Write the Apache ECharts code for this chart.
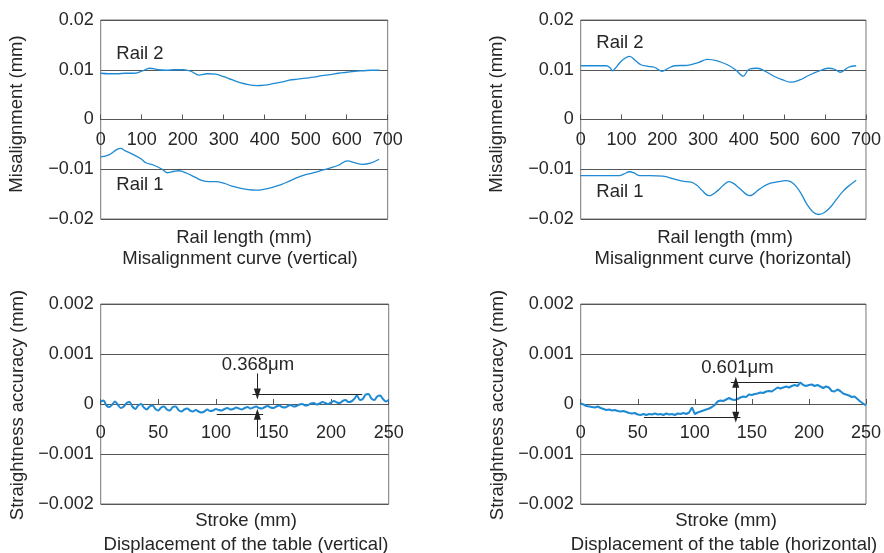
<!DOCTYPE html>
<html>
<head>
<meta charset="utf-8">
<script src="https://cdn.jsdelivr.net/npm/echarts@6/dist/echarts.min.js"></script>
<style>
html,body{margin:0;padding:0;background:#fff;}
#chart{width:884px;height:553px;}
</style>
</head>
<body>
<div id="chart"></div>
<script>
// ---------- DATA ----------
// Misalignment curve (vertical) — rail length (mm) vs misalignment (mm)
const vRail2X = [0,20,40,60,80,100,120,140,160,180,200,220,240,260,280,300,320,340,360,380,400,420,440,460,480,500,520,540,560,580,600,620,640,660,680];
const vRail2Y = [0.0093,0.0092,0.0092,0.0093,0.0093,0.0097,0.0103,0.0100,0.0099,0.0100,0.0100,0.0097,0.0089,0.0092,0.0091,0.0086,0.0080,0.0074,0.0070,0.0068,0.0069,0.0072,0.0075,0.0079,0.0081,0.0083,0.0085,0.0088,0.0090,0.0093,0.0095,0.0097,0.0098,0.0099,0.0099];
const vRail1X = [0,20,40,49,60,81,100,110,130,150,163,180,191,210,230,248,265,280,300,320,340,360,378,400,420,440,460,476,500,520,540,557,580,602,620,638,660,679];
const vRail1Y = [-0.0075,-0.0071,-0.0060,-0.0058,-0.0063,-0.0071,-0.0080,-0.0087,-0.0092,-0.0100,-0.0107,-0.0104,-0.0103,-0.0108,-0.0116,-0.0123,-0.0125,-0.0125,-0.0128,-0.0134,-0.0138,-0.0141,-0.0142,-0.0140,-0.0136,-0.0131,-0.0124,-0.0118,-0.0111,-0.0107,-0.0102,-0.0098,-0.0092,-0.0083,-0.0087,-0.0090,-0.0087,-0.0080];

// Misalignment curve (horizontal)
const hRail2X = [0,20,40,63,72,78,85,95,105,120,135,148,165,181,199,215,230,262,290,311,335,360,380,399,413,433,455,474,495,514,539,555,571,590,608,623,637,657,676];
const hRail2Y = [0.0108,0.0108,0.0108,0.0108,0.0104,0.0098,0.0103,0.0113,0.0121,0.0127,0.0118,0.0110,0.0107,0.0105,0.0097,0.0103,0.0108,0.0109,0.0115,0.0121,0.0118,0.0110,0.0100,0.0087,0.0101,0.0103,0.0096,0.0087,0.0080,0.0075,0.0080,0.0087,0.0093,0.0099,0.0103,0.0101,0.0095,0.0105,0.0108];
const hRail1X = [0,40,92,105,120,132,145,170,201,230,250,271,285,295,315,336,350,364,376,388,415,437,452,466,485,502,515,527,540,555,570,584,598,612,628,645,660,676];
const hRail1Y = [-0.0113,-0.0113,-0.0113,-0.0110,-0.0105,-0.0108,-0.0113,-0.0113,-0.0114,-0.0120,-0.0124,-0.0126,-0.0132,-0.0140,-0.0153,-0.0143,-0.0132,-0.0125,-0.0129,-0.0137,-0.0153,-0.0141,-0.0133,-0.0128,-0.0125,-0.0123,-0.0125,-0.0133,-0.0148,-0.0170,-0.0186,-0.0191,-0.0187,-0.0177,-0.0160,-0.0143,-0.0132,-0.0122];

// Displacement of the table — stroke sampled every 2.5 mm, values in µm
const strokeStep = 2.5;
const dispVerticalUm = [0.05,0.07,-0.03,-0.06,-0.01,0.05,-0.02,-0.08,-0.05,0.02,0.04,-0.05,-0.10,-0.03,0.00,-0.07,-0.11,-0.05,-0.03,-0.10,-0.13,-0.07,-0.05,-0.11,-0.13,-0.06,-0.05,-0.12,-0.15,-0.11,-0.09,-0.13,-0.15,-0.12,-0.15,-0.17,-0.15,-0.11,-0.14,-0.13,-0.10,-0.12,-0.13,-0.10,-0.08,-0.11,-0.10,-0.07,-0.09,-0.11,-0.08,-0.06,-0.09,-0.07,-0.05,-0.08,-0.09,-0.06,-0.04,-0.07,-0.08,-0.05,-0.03,-0.06,-0.07,-0.04,-0.02,-0.05,-0.04,-0.01,0.00,-0.03,-0.02,0.01,0.02,-0.01,0.01,0.04,0.02,0.00,0.03,0.06,0.03,0.02,0.06,0.08,0.04,0.05,0.10,0.17,0.08,0.10,0.19,0.20,0.11,0.08,0.15,0.17,0.10,0.05,0.08];
const dispHorizontalUm = [0.01,-0.01,-0.04,-0.05,-0.06,-0.07,-0.05,-0.08,-0.10,-0.12,-0.11,-0.13,-0.12,-0.14,-0.15,-0.14,-0.16,-0.18,-0.19,-0.18,-0.21,-0.22,-0.20,-0.22,-0.20,-0.21,-0.19,-0.21,-0.20,-0.22,-0.19,-0.21,-0.20,-0.22,-0.19,-0.20,-0.18,-0.20,-0.17,-0.07,-0.20,-0.17,-0.15,-0.13,-0.11,-0.09,-0.06,-0.02,0.05,0.07,0.06,0.09,0.12,0.09,0.08,0.10,0.13,0.15,0.14,0.19,0.18,0.20,0.21,0.23,0.22,0.25,0.26,0.25,0.29,0.33,0.31,0.33,0.35,0.33,0.36,0.38,0.36,0.43,0.38,0.36,0.38,0.39,0.36,0.38,0.35,0.32,0.35,0.33,0.26,0.25,0.29,0.26,0.21,0.19,0.17,0.14,0.15,0.10,0.05,0.01,-0.03];

// Annotations (data coordinates: stroke mm, displacement mm)
const vMaxLine = [[131.7, 0.0002],[227, 0.0002]];
const vMinLine = [[100.7, -0.000206],[141, -0.000206]];
const vArrowTop = [[136, 0.00061],[136, 0.0002]];
const vArrowBottom = [[136, -0.00066],[136, -0.000206]];
const vLabelPos = [136.5, 0.00078];
const vLabel = '0.368μm';
const hMaxLine = [[131.5, 0.000434],[191, 0.000434]];
const hMinLine = [[55.4, -0.000266],[140, -0.000266]];
const hArrow = [[135.9, 0.000434],[135.9, -0.000266]];
const hLabelPos = [137.3, 0.00073];
const hLabel = '0.601μm';

// ---------- CHART ----------
const FONT = '"Liberation Sans", Arial, Helvetica, sans-serif';
const TXT = '#262626';
const BLUE = '#1e8ad3';
const GRIDC = '#555';

const pairs = (xs, ys) => xs.map((x, i) => [x, ys[i]]);
const strokePairs = (um) => um.map((v, i) => [i * strokeStep, v / 1000]);

function fmtTop(v){ if (Math.abs(v) < 1e-9) return '0'; return (v < 0 ? '\u2212' : '') + Math.abs(v).toFixed(2); }
function fmtBot(v){ if (Math.abs(v) < 1e-9) return '0'; return (v < 0 ? '\u2212' : '') + Math.abs(v).toFixed(3); }

const gridDefs = [
  {left: 100.7, top: 20, width: 287, height: 199},
  {left: 580.7, top: 20, width: 287, height: 199},
  {left: 100.7, top: 304, width: 288, height: 200},
  {left: 580.7, top: 304, width: 287, height: 200}
];
const grids = gridDefs.map(g => Object.assign({show: true, borderColor: '#777', borderWidth: 1, containLabel: false}, g));

// x axis drawn through the middle (value 0) of each symmetric y range
function xAx(i, max, interval, margin){
  return {
    type: 'value', gridIndex: i, min: 0, max: max, interval: interval,
    position: 'bottom', offset: -gridDefs[i].height / 2,
    axisLine: {onZero: false, lineStyle: {color: GRIDC, width: 1}},
    axisTick: {show: true, inside: true, length: 5, lineStyle: {color: GRIDC}},
    axisLabel: {color: TXT, fontSize: 18, fontFamily: FONT, margin: margin, showMinLabel: true, showMaxLabel: true},
    splitLine: {show: false}
  };
}
function yAx(i, min, max, interval, fmt){
  return {
    type: 'value', gridIndex: i, min: min, max: max, interval: interval,
    axisLine: {show: false}, axisTick: {show: false},
    axisLabel: {color: TXT, fontSize: 18, fontFamily: FONT, margin: 7, formatter: fmt},
    splitLine: {show: true, lineStyle: {color: GRIDC, width: 1}}
  };
}

function lineSeries(idx, data, width, smooth, extra){
  return Object.assign({
    type: 'line', xAxisIndex: idx, yAxisIndex: idx, data: data, showSymbol: false, symbol: 'none',
    smooth: smooth, lineStyle: {color: BLUE, width: width}, itemStyle: {color: BLUE}, silent: true, animation: false
  }, extra || {});
}

function seg(a, b, s0, s1){
  return [{coord: a, symbol: s0}, {coord: b, symbol: s1}];
}

const chart = echarts.init(document.getElementById('chart'), null, {renderer: 'canvas'});

const annV = {
  markLine: {
    silent: true, animation: false, symbolSize: [7, 11], label: {show: false},
    lineStyle: {color: '#222', width: 1, type: 'solid'},
    data: [
      seg(vMaxLine[0], vMaxLine[1], 'none', 'none'),
      seg(vMinLine[0], vMinLine[1], 'none', 'none'),
      seg(vArrowTop[0], vArrowTop[1], 'none', 'triangle'),
      seg(vArrowBottom[0], vArrowBottom[1], 'none', 'triangle')
    ]
  },
  markPoint: {
    silent: true, animation: false, symbol: 'rect', symbolSize: 1, itemStyle: {color: 'rgba(0,0,0,0)'},
    label: {show: true, position: 'inside', color: TXT, fontSize: 18.5, fontFamily: FONT, formatter: vLabel},
    data: [{coord: vLabelPos}]
  }
};
const annH = {
  markLine: {
    silent: true, animation: false, symbolSize: [7, 11], label: {show: false},
    lineStyle: {color: '#222', width: 1, type: 'solid'},
    data: [
      seg(hMaxLine[0], hMaxLine[1], 'none', 'none'),
      seg(hMinLine[0], hMinLine[1], 'none', 'none'),
      seg(hArrow[0], hArrow[1], 'triangle', 'triangle')
    ]
  },
  markPoint: {
    silent: true, animation: false, symbol: 'rect', symbolSize: 1, itemStyle: {color: 'rgba(0,0,0,0)'},
    label: {show: true, position: 'inside', color: TXT, fontSize: 18.5, fontFamily: FONT, formatter: hLabel},
    data: [{coord: hLabelPos}]
  }
};

function txt(x, y, s, rot){
  const o = {type: 'text', x: x, y: y, silent: true,
    style: {text: s, fill: TXT, font: '18.5px ' + FONT, textAlign: 'center', textVerticalAlign: 'middle'}};
  if (rot) o.rotation = Math.PI / 2;
  return o;
}

chart.setOption({
  animation: false,
  backgroundColor: '#fff',
  grid: grids,
  xAxis: [xAx(0, 700, 100, 12), xAx(1, 700, 100, 12), xAx(2, 250, 50, 20), xAx(3, 250, 50, 20)],
  yAxis: [yAx(0, -0.02, 0.02, 0.01, fmtTop), yAx(1, -0.02, 0.02, 0.01, fmtTop),
          yAx(2, -0.002, 0.002, 0.001, fmtBot), yAx(3, -0.002, 0.002, 0.001, fmtBot)],
  series: [
    lineSeries(0, pairs(vRail2X, vRail2Y), 1.3, 0.4),
    lineSeries(0, pairs(vRail1X, vRail1Y), 1.3, 0.4),
    lineSeries(1, pairs(hRail2X, hRail2Y), 1.3, 0.4),
    lineSeries(1, pairs(hRail1X, hRail1Y), 1.3, 0.4),
    lineSeries(2, strokePairs(dispVerticalUm), 2, 0.3, annV),
    lineSeries(3, strokePairs(dispHorizontalUm), 2, false, annH)
  ],
  graphic: [
    txt(140, 54, 'Rail 2'), txt(140, 185, 'Rail 1'),
    txt(620, 43, 'Rail 2'), txt(620, 192, 'Rail 1'),
    txt(16.5, 114, 'Misalignment (mm)', true),
    txt(496.5, 114, 'Misalignment (mm)', true),
    txt(18.4, 405, 'Straightness accuracy (mm)', true),
    txt(498, 405, 'Straightness accuracy (mm)', true),
    txt(244, 237.5, 'Rail length (mm)'),
    txt(240, 259, 'Misalignment curve (vertical)'),
    txt(725, 237.5, 'Rail length (mm)'),
    txt(723, 259, 'Misalignment curve (horizontal)'),
    txt(246, 520.5, 'Stroke (mm)'),
    txt(246, 545, 'Displacement of the table (vertical)'),
    txt(726, 520.5, 'Stroke (mm)'),
    txt(724, 545, 'Displacement of the table (horizontal)')
  ]
});
</script>
</body>
</html>
